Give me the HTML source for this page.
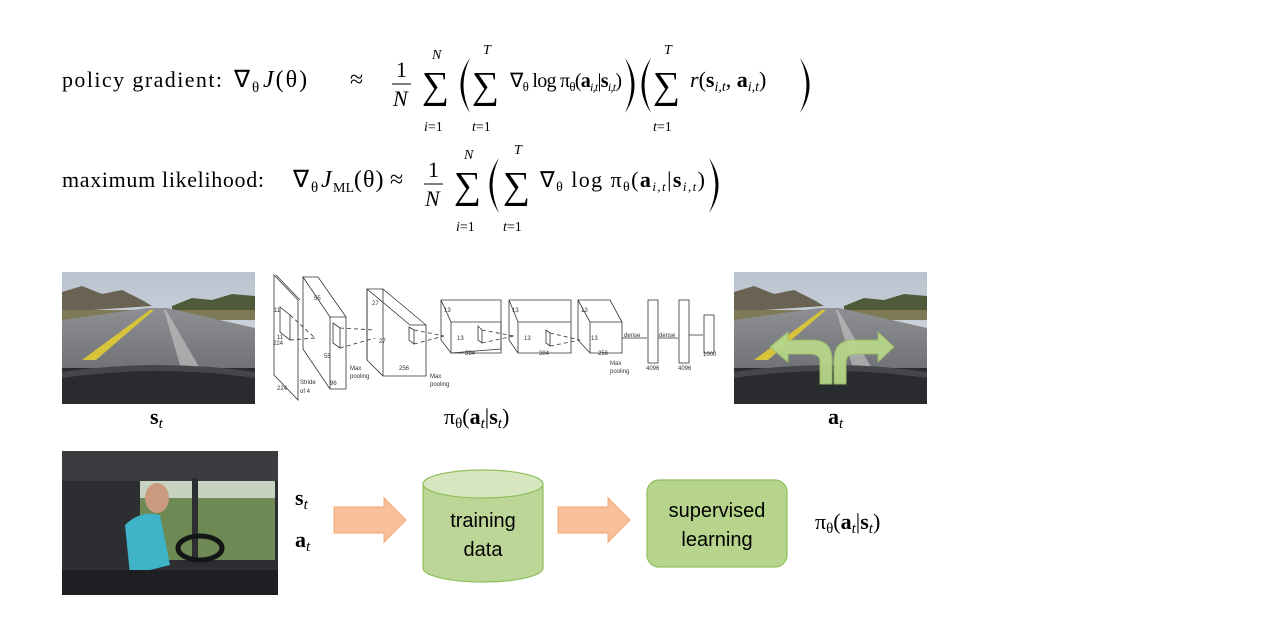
<!DOCTYPE html>
<html><head><meta charset="utf-8"><style>
html,body{margin:0;padding:0;background:#fff;}
svg text{font-family:"Liberation Serif",serif;}
svg text.s{font-family:"Liberation Sans",sans-serif;}
</style></head><body>
<svg width="1272" height="624" viewBox="0 0 1272 624" xmlns="http://www.w3.org/2000/svg">
<defs>
<linearGradient id="sky" x1="0" y1="0" x2="0" y2="1"><stop offset="0" stop-color="#b9c3cf"/><stop offset="1" stop-color="#dfe3e6"/></linearGradient>
<linearGradient id="road" x1="0" y1="0" x2="0" y2="1"><stop offset="0" stop-color="#8e8f92"/><stop offset="1" stop-color="#6e6f73"/></linearGradient>
<g id="roadimg">
<rect x="0" y="0" width="193" height="132" fill="url(#sky)"/>
<path d="M0 20 L20 14 L40 22 L60 18 L80 28 L90 34 L0 40Z" fill="#6a6252"/>
<path d="M110 34 L130 26 L150 28 L170 22 L193 24 L193 42 L110 40Z" fill="#4e5a3a"/>
<rect x="0" y="38" width="193" height="10" fill="#7f7a56"/>
<path d="M0 48 L85 36 L105 36 L193 56 L193 104 L0 104Z" fill="url(#road)"/>
<path d="M20 88 L88 38 L92 38 L34 88Z" fill="#d8c43a"/>
<path d="M120 100 L102 38 L104 38 L140 100Z" fill="#c9c9c9" opacity=".6"/>
<rect x="0" y="96" width="193" height="36" fill="#2a2b2e"/>
<path d="M0 100 Q96 86 193 100 L193 106 Q96 92 0 106Z" fill="#45464a"/>
</g>
</defs>

<!-- Equation 1 -->
<g font-size="22" fill="#000">
<text x="62" y="87" textLength="160" lengthAdjust="spacing">policy gradient:</text>
<text x="234" y="87" font-size="24">∇</text>
<text x="252" y="92" font-size="15">θ</text>
<text x="263" y="87" font-size="24" letter-spacing="2"><tspan font-style="italic">J</tspan>(θ)</text>
<text x="350" y="87" font-size="24">≈</text>
<text x="396" y="77">1</text>
<line x1="392" y1="84" x2="411" y2="84" stroke="#000" stroke-width="1"/>
<text x="393" y="106" font-style="italic">N</text>
<text x="422" y="98" font-size="38">∑</text>
<text x="432" y="59" font-size="14" font-style="italic">N</text>
<text x="424" y="131" font-size="14"><tspan font-style="italic">i</tspan>=1</text>
<text x="472" y="98" font-size="38">∑</text>
<text x="483" y="54" font-size="14" font-style="italic">T</text>
<text x="472" y="131" font-size="14"><tspan font-style="italic">t</tspan>=1</text>
<text x="510" y="87" textLength="112" lengthAdjust="spacing" font-size="20">∇<tspan font-size="13" dy="4">θ</tspan><tspan dy="-4"> log π</tspan><tspan font-size="13" dy="4">θ</tspan><tspan dy="-4">(</tspan><tspan font-weight="bold">a</tspan><tspan font-size="12" dy="4" font-style="italic">i,t</tspan><tspan dy="-4">|</tspan><tspan font-weight="bold">s</tspan><tspan font-size="12" dy="4" font-style="italic">i,t</tspan><tspan dy="-4">)</tspan></text>
<text x="653" y="98" font-size="38">∑</text>
<text x="664" y="54" font-size="14" font-style="italic">T</text>
<text x="653" y="131" font-size="14"><tspan font-style="italic">t</tspan>=1</text>
<text x="690" y="87" font-size="22"><tspan font-style="italic">r</tspan>(<tspan font-weight="bold">s</tspan><tspan font-size="14" dy="4" font-style="italic">i,t</tspan><tspan dy="-4">, </tspan><tspan font-weight="bold">a</tspan><tspan font-size="14" dy="4" font-style="italic">i,t</tspan><tspan dy="-4">)</tspan></text>
</g>
<g fill="#000">
<path d="M470 58 Q451 85 470 113 Q457 85 470 58Z"/>
<path d="M625 58 Q644 85 625 113 Q638 85 625 58Z"/>
<path d="M651 58 Q632 85 651 113 Q638 85 651 58Z"/>
<path d="M800 58 Q819 85 800 113 Q813 85 800 58Z"/>
<path d="M499 158 Q480 185 499 213 Q486 185 499 158Z"/>
<path d="M709 158 Q728 185 709 213 Q722 185 709 158Z"/>
</g>

<!-- Equation 2 -->
<g font-size="22" fill="#000">
<text x="62" y="187" textLength="202" lengthAdjust="spacing">maximum likelihood:</text>
<text x="293" y="187" font-size="24">∇</text>
<text x="311" y="192" font-size="15">θ</text>
<text x="321" y="187" font-size="24" font-style="italic">J</text>
<text x="333" y="192" font-size="14">ML</text>
<text x="354" y="187" font-size="24" letter-spacing="1">(θ)</text>
<text x="390" y="187" font-size="24">≈</text>
<text x="428" y="177">1</text>
<line x1="424" y1="184" x2="443" y2="184" stroke="#000" stroke-width="1"/>
<text x="425" y="206" font-style="italic">N</text>
<text x="454" y="198" font-size="38">∑</text>
<text x="464" y="159" font-size="14" font-style="italic">N</text>
<text x="456" y="231" font-size="14"><tspan font-style="italic">i</tspan>=1</text>
<text x="503" y="198" font-size="38">∑</text>
<text x="514" y="154" font-size="14" font-style="italic">T</text>
<text x="503" y="231" font-size="14"><tspan font-style="italic">t</tspan>=1</text>
<text x="540" y="187" textLength="165" lengthAdjust="spacing">∇<tspan font-size="14" dy="4">θ</tspan><tspan dy="-4"> log π</tspan><tspan font-size="14" dy="4">θ</tspan><tspan dy="-4">(</tspan><tspan font-weight="bold">a</tspan><tspan font-size="13" dy="4" font-style="italic">i,t</tspan><tspan dy="-4">|</tspan><tspan font-weight="bold">s</tspan><tspan font-size="13" dy="4" font-style="italic">i,t</tspan><tspan dy="-4">)</tspan></text>
</g>

<!-- road images -->
<use href="#roadimg" x="62" y="272"/>
<use href="#roadimg" x="734" y="272"/>
<g fill="#b7d68a" stroke="#9cc06a" stroke-width="1" opacity="0.95">
<path d="M820 384 L820 362 Q820 354 810 354 L788 354 L788 362 L770 347 L788 332 L788 340 L812 340 Q832 340 832 360 L832 384Z"/>
<path d="M846 384 L846 362 Q846 354 856 354 L878 354 L878 362 L894 347 L878 332 L878 340 L854 340 Q834 340 834 360 L834 384Z"/>
</g>

<!-- CNN diagram -->
<g fill="none" stroke="#333" stroke-width="0.8">
<path d="M274 275 L298 300 L298 400 L274 375Z"/>
<path d="M276 275 L300 300"/>
<path d="M303 277 L330 317 L346 317 L346 389 L330 389 L303 349Z M303 277 L318 277 L346 317"/>
<path d="M330 317 L330 389"/>
<path d="M367 289 L383 289 L426 325 L426 376 L383 376 L367 360Z M383 289 L383 376 M367 289 L410 325 L426 325"/>
<path d="M367 289 L367 360"/>
<path d="M441 300 L501 300 L501 349 L451 353 L441 340Z"/>
<path d="M441 300 L451 322 L501 322 M451 322 L451 353 M501 322 L501 353 L451 353"/>
<path d="M509 300 L571 300 L571 353 L518 353 L509 340Z M509 300 L518 322 L571 322 M518 322 L518 353"/>
<path d="M578 300 L610 300 L622 322 L622 353 L590 353 L578 340Z M578 300 L590 322 L622 322 M590 322 L590 353"/>
<rect x="648" y="300" width="10" height="63"/>
<rect x="679" y="300" width="10" height="63"/>
<rect x="704" y="315" width="10" height="38"/>
<path d="M622 338 L647 338 M658 338 L678 338 M689 335 L703 335"/>
<path d="M280 307 L290 315 L290 340 L280 332Z M333 323 L340 328 L340 348 L333 343Z M409 327 L414 330 L414 344 L409 340Z M478 326 L482 330 L482 343 L478 340Z M546 330 L550 333 L550 346 L546 343Z"/>
<path d="M290 315 L315 338 M290 340 L315 338 M340 328 L375 330 M340 348 L375 338 M414 330 L444 336 M414 344 L444 336 M482 330 L514 336 M482 343 L514 336 M550 333 L580 340 M550 346 L580 340" stroke-dasharray="4 3"/>
</g>
<g font-size="6" fill="#333">
<text class="s" x="274" y="312">11</text><text class="s" x="277" y="339">11</text><text class="s" x="273" y="345">224</text><text class="s" x="277" y="390">224</text>
<text class="s" x="314" y="300">55</text><text class="s" x="324" y="358">55</text><text class="s" x="330" y="385">96</text>
<text class="s" x="300" y="384">Stride</text><text class="s" x="300" y="393">of 4</text>
<text class="s" x="350" y="370">Max</text><text class="s" x="350" y="378">pooling</text>
<text class="s" x="372" y="305">27</text><text class="s" x="379" y="343">27</text><text class="s" x="399" y="370">256</text>
<text class="s" x="430" y="378">Max</text><text class="s" x="430" y="386">pooling</text>
<text class="s" x="444" y="312">13</text><text class="s" x="457" y="340">13</text><text class="s" x="465" y="355">384</text>
<text class="s" x="512" y="312">13</text><text class="s" x="524" y="340">13</text><text class="s" x="539" y="355">384</text>
<text class="s" x="581" y="312">13</text><text class="s" x="591" y="340">13</text><text class="s" x="598" y="355">256</text>
<text class="s" x="610" y="365">Max</text><text class="s" x="610" y="373">pooling</text>
<text class="s" x="624" y="337">dense</text><text class="s" x="659" y="337">dense</text>
<text class="s" x="646" y="370">4096</text><text class="s" x="678" y="370">4096</text><text class="s" x="703" y="356">1000</text>
</g>

<!-- captions -->
<g font-size="22" fill="#000">
<text x="150" y="424"><tspan font-weight="bold">s</tspan><tspan font-size="15" font-style="italic" dy="4">t</tspan></text>
<text x="444" y="424">π<tspan font-size="15" dy="4">θ</tspan><tspan dy="-4">(</tspan><tspan font-weight="bold">a</tspan><tspan font-size="15" font-style="italic" dy="4">t</tspan><tspan dy="-4">|</tspan><tspan font-weight="bold">s</tspan><tspan font-size="15" font-style="italic" dy="4">t</tspan><tspan dy="-4">)</tspan></text>
<text x="828" y="424"><tspan font-weight="bold">a</tspan><tspan font-size="15" font-style="italic" dy="4">t</tspan></text>
<text x="295" y="505"><tspan font-weight="bold">s</tspan><tspan font-size="15" font-style="italic" dy="4">t</tspan></text>
<text x="295" y="547"><tspan font-weight="bold">a</tspan><tspan font-size="15" font-style="italic" dy="4">t</tspan></text>
<text x="815" y="529">π<tspan font-size="15" dy="4">θ</tspan><tspan dy="-4">(</tspan><tspan font-weight="bold">a</tspan><tspan font-size="15" font-style="italic" dy="4">t</tspan><tspan dy="-4">|</tspan><tspan font-weight="bold">s</tspan><tspan font-size="15" font-style="italic" dy="4">t</tspan><tspan dy="-4">)</tspan></text>
</g>

<!-- driver photo -->
<rect x="62" y="451" width="216" height="144" fill="#2c2e32"/>
<rect x="140" y="480" width="135" height="80" fill="#6d8a55"/>
<rect x="140" y="480" width="135" height="18" fill="#c8d2c0"/>
<rect x="62" y="451" width="216" height="30" fill="#3a3c40"/>
<rect x="192" y="478" width="6" height="90" fill="#2c2e32"/>
<rect x="222" y="470" width="56" height="10" fill="#3a3c40"/>
<ellipse cx="157" cy="498" rx="12" ry="15" fill="#c99a80"/>
<path d="M125 525 Q140 510 160 515 L170 565 L130 575Z" fill="#3fb3c8"/>
<ellipse cx="200" cy="548" rx="22" ry="12" fill="none" stroke="#151515" stroke-width="5"/>
<rect x="62" y="570" width="216" height="25" fill="#1e1f22"/>

<!-- arrows -->
<path d="M334 507 L384 507 L384 498 L406 520 L384 542 L384 533 L334 533Z" fill="#f9c09c" stroke="#f4a46e" stroke-width="1"/>
<path d="M558 507 L608 507 L608 498 L630 520 L608 542 L608 533 L558 533Z" fill="#f9c09c" stroke="#f4a46e" stroke-width="1"/>

<!-- cylinder -->
<path d="M423 484 L423 568 A60 14 0 0 0 543 568 L543 484" fill="#bcd697" stroke="#8fbf5c" stroke-width="1.2"/>
<ellipse cx="483" cy="484" rx="60" ry="14" fill="#d6e6bf" stroke="#8fbf5c" stroke-width="1.2"/>
<text class="s" x="483" y="527" font-size="20" text-anchor="middle">training</text>
<text class="s" x="483" y="556" font-size="20" text-anchor="middle">data</text>

<!-- rounded rect -->
<rect x="647" y="480" width="140" height="87" rx="12" fill="#b6d48c" stroke="#8fbf5c" stroke-width="1.2"/>
<text class="s" x="717" y="517" font-size="20" text-anchor="middle">supervised</text>
<text class="s" x="717" y="546" font-size="20" text-anchor="middle">learning</text>
</svg>
</body></html>
